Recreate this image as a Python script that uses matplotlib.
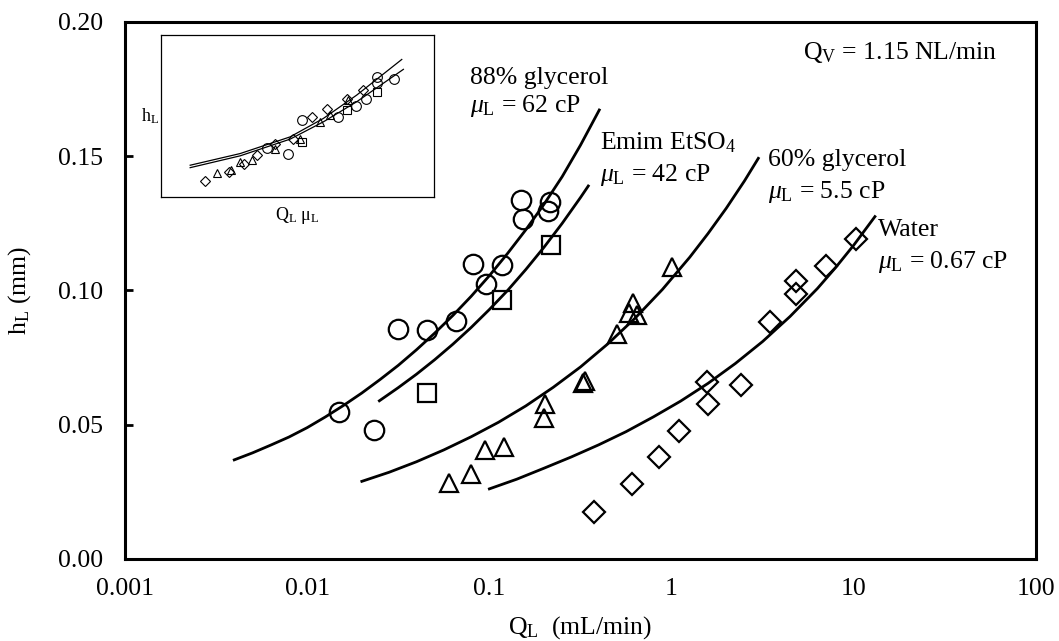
import matplotlib
matplotlib.use("Agg")
import matplotlib.pyplot as plt

plt.rcParams["font.family"] = ["Liberation Serif", "DejaVu Serif"]
plt.rcParams["mathtext.fontset"] = "custom"
plt.rcParams["mathtext.rm"] = "Liberation Serif"
plt.rcParams["mathtext.it"] = "Liberation Serif:italic"

# measured points (Q_L in mL/min, h_L in mm)
gly88_q = [0.0149, 0.0233, 0.0314, 0.0453, 0.0656, 0.0809, 0.0954, 0.117, 0.150, 0.152, 0.215, 0.209]
gly88_h = [0.0549, 0.0480, 0.0855, 0.0853, 0.0888, 0.1098, 0.1024, 0.1095, 0.1337, 0.1265, 0.1331, 0.1294]

emim_q = [0.0453, 0.117, 0.217]
emim_h = [0.0617, 0.0965, 0.1169]

gly60_q = [0.060, 0.0794, 0.0946, 0.120, 0.199, 0.203, 0.327, 0.335, 0.499, 0.584, 0.613, 0.643, 1.00]
gly60_h = [0.0282, 0.0315, 0.0406, 0.0418, 0.0524, 0.0577, 0.0654, 0.0663, 0.0838, 0.0915, 0.0952, 0.0909, 0.1089]

water_q = [0.375, 0.608, 0.849, 1.094, 1.578, 1.57, 2.39, 3.47, 4.8, 4.8, 7.0, 10.28]
water_h = [0.0176, 0.0278, 0.0379, 0.0478, 0.0578, 0.0660, 0.0648, 0.0884, 0.0986, 0.1037, 0.1091, 0.1192]

# model curves
fit88_q = [0.00398, 0.00501, 0.00631, 0.00794, 0.0100, 0.01259, 0.01585, 0.01995, 0.0251, 0.03162,
           0.0398, 0.0501, 0.0631, 0.0794, 0.100, 0.1259, 0.1585, 0.1995, 0.251, 0.3162, 0.401]
fit88_h = [0.0369, 0.0395, 0.0424, 0.0454, 0.0489, 0.0529, 0.0572, 0.0618, 0.0668, 0.0721,
           0.0779, 0.0841, 0.0907, 0.0978, 0.1055, 0.1138, 0.1226, 0.1321, 0.1424, 0.1541, 0.1672]

fitem_q = [0.0249, 0.03162, 0.0398, 0.0501, 0.0631, 0.0794, 0.100, 0.1259, 0.1585, 0.1995, 0.251, 0.3162, 0.349]
fitem_h = [0.0589, 0.0638, 0.0688, 0.0742, 0.0800, 0.0862, 0.0929, 0.1000, 0.1078, 0.1161, 0.1250, 0.1346, 0.1389]

fit60_q = [0.01995, 0.0282, 0.0398, 0.0562, 0.0794, 0.1122, 0.1585, 0.2239, 0.3162, 0.4467,
           0.631, 0.8913, 1.259, 1.585, 1.995, 2.512, 2.992]
fit60_h = [0.0289, 0.0323, 0.0362, 0.0406, 0.0455, 0.0509, 0.0570, 0.0639, 0.0715, 0.0801,
           0.0897, 0.1004, 0.1124, 0.1212, 0.1306, 0.1408, 0.1492]

fitw_q = [0.100, 0.1413, 0.1995, 0.2818, 0.398, 0.5623, 0.794, 1.122, 1.585, 2.239,
          3.162, 4.467, 6.31, 7.943, 10.0, 13.06]
fitw_h = [0.0261, 0.0297, 0.0338, 0.0380, 0.0425, 0.0474, 0.0529, 0.0588, 0.0654, 0.0728,
          0.0810, 0.0903, 0.1007, 0.1085, 0.1169, 0.1275]

# inset: collapsed data, unitless (Q_L mu_L vs h_L)
ins_dia_u = [0.162, 0.251, 0.305, 0.351, 0.418, 0.485, 0.552, 0.607, 0.680, 0.741]
ins_dia_v = [0.097, 0.155, 0.206, 0.262, 0.326, 0.361, 0.491, 0.546, 0.604, 0.660]
ins_tri_u = [0.207, 0.256, 0.290, 0.333, 0.418, 0.510, 0.583, 0.620, 0.685]
ins_tri_v = [0.148, 0.165, 0.216, 0.227, 0.299, 0.361, 0.464, 0.505, 0.598]
ins_cir_u = [0.388, 0.467, 0.518, 0.650, 0.715, 0.751, 0.793, 0.793, 0.854]
ins_cir_v = [0.305, 0.268, 0.474, 0.491, 0.561, 0.604, 0.738, 0.701, 0.726]
ins_sq_u = [0.516, 0.680, 0.793]
ins_sq_v = [0.340, 0.536, 0.649]
ins_fit1_u = [0.107, 0.290, 0.473, 0.595, 0.717, 0.882]
ins_fit1_v = [0.196, 0.268, 0.371, 0.485, 0.629, 0.849]
ins_fit2_u = [0.107, 0.290, 0.473, 0.595, 0.717, 0.888]
ins_fit2_v = [0.181, 0.254, 0.357, 0.464, 0.588, 0.788]

FS = 18.5

fig = plt.figure(figsize=(10.59, 6.41), dpi=100)
ax = fig.add_axes([0.118, 0.128, 0.8603, 0.8378])

line_kw = dict(color="k", lw=2.0, solid_joinstyle="round")
for q, h in [(fit88_q, fit88_h), (fitem_q, fitem_h), (fit60_q, fit60_h), (fitw_q, fitw_h)]:
    ax.plot(q, h, **line_kw)

mk_kw = dict(ls="none", mfc="none", mec="k", mew=1.6)
ax.plot(gly88_q, gly88_h, marker="o", ms=14, **mk_kw)
ax.plot(emim_q, emim_h, marker="s", ms=12.5, **mk_kw)
ax.plot(gly60_q, gly60_h, marker="^", ms=13, **mk_kw)
ax.plot(water_q, water_h, marker="D", ms=11, **mk_kw)

ax.set_xscale("log")
ax.set_xlim(0.001, 100)
ax.set_ylim(0, 0.20)
ax.set_xticks([0.001, 0.01, 0.1, 1, 10, 100])
ax.set_xticklabels(["0.001", "0.01", "0.1", "1", "10", "100"])
ax.xaxis.set_minor_locator(matplotlib.ticker.NullLocator())
ax.set_yticks([0, 0.05, 0.10, 0.15, 0.20])
ax.set_yticklabels(["0.00", "0.05", "0.10", "0.15", "0.20"])
ax.tick_params(axis="x", length=0, pad=14, labelsize=FS)
ax.tick_params(axis="y", direction="in", length=6, width=2, pad=16, labelsize=FS)
for s in ax.spines.values():
    s.set_linewidth(2.2)

ax.set_xlabel("Q$_{\\rm L}$  (mL/min)", fontsize=FS, labelpad=10)
ax.set_ylabel("h$_{\\rm L}$ (mm)", fontsize=FS, labelpad=18)

txt = dict(fontsize=FS, va="center", ha="left")
ax.text(0.078, 0.179, "88% glycerol", **txt)
ax.text(0.078, 0.1687, "$\\mu_{\\rm L}$ = 62 cP", **txt)
ax.text(0.405, 0.155, "Emim EtSO$_4$", **txt)
ax.text(0.405, 0.143, "$\\mu_{\\rm L}$ = 42 cP", **txt)
ax.text(3.38, 0.1486, "60% glycerol", **txt)
ax.text(3.38, 0.1367, "$\\mu_{\\rm L}$ = 5.5 cP", **txt)
ax.text(13.6, 0.1225, "Water", **txt)
ax.text(13.6, 0.1106, "$\\mu_{\\rm L}$ = 0.67 cP", **txt)
ax.text(5.26, 0.1885, "Q$_{\\rm V}$ = 1.15 NL/min", **txt)

# inset
ins = fig.add_axes([0.152, 0.6927, 0.2578, 0.2527])
ins.plot(ins_fit1_u, ins_fit1_v, color="k", lw=0.9)
ins.plot(ins_fit2_u, ins_fit2_v, color="k", lw=0.9)
ik = dict(ls="none", mfc="none", mec="k", mew=0.8)
ins.plot(ins_dia_u, ins_dia_v, marker="D", ms=5, **ik)
ins.plot(ins_tri_u, ins_tri_v, marker="^", ms=6, **ik)
ins.plot(ins_cir_u, ins_cir_v, marker="o", ms=7, **ik)
ins.plot(ins_sq_u, ins_sq_v, marker="s", ms=6, **ik)
ins.set_xlim(0, 1)
ins.set_ylim(0, 1)
ins.set_xticks([])
ins.set_yticks([])
for s in ins.spines.values():
    s.set_linewidth(0.9)
ins.set_xlabel("Q$_{\\rm L}$ \u03bc$_{\\rm L}$", fontsize=13, labelpad=6)
ins.set_ylabel("h$_{\\rm L}$", fontsize=13, rotation=0, labelpad=8, va="center")

fig.savefig("out.png", dpi=100)
